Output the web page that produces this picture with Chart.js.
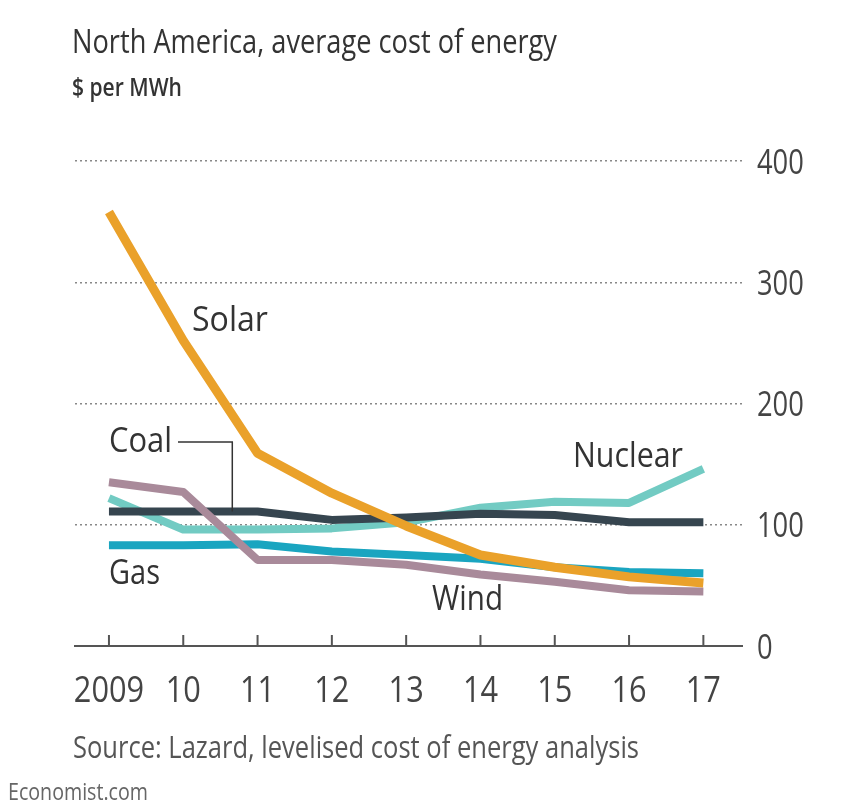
<!DOCTYPE html>
<html>
<head>
<meta charset="utf-8">
<script src="https://cdn.jsdelivr.net/npm/chart.js@4/dist/chart.umd.min.js"></script>
<style>
  html, body { margin: 0; padding: 0; background: #fff; }
  #wrap { position: relative; width: 861px; height: 807px; overflow: hidden; }
  canvas { position: absolute; left: 0; top: 0; }
  .t { position: absolute; white-space: nowrap; transform-origin: 0 0; font-family: "Open Sans", sans-serif; color: #333; line-height: 1; }
</style>
</head>
<body>
<div id="wrap">
  <canvas id="chart" width="861" height="807"></canvas>
  <div class="t" data-w="485" style="left:72px; top:24px; font-size:33px;">North America, average cost of energy</div>
  <div class="t" data-w="110" style="left:72px; top:73px; font-size:26px; font-weight:600;">$ per MWh</div>
  <div class="t" data-w="76" style="left:192px; top:300px; font-size:35px;">Solar</div>
  <div class="t" data-w="63" style="left:109px; top:421px; font-size:35px;">Coal</div>
  <div class="t" data-w="51" style="left:109px; top:553px; font-size:35px;">Gas</div>
  <div class="t" data-w="71" style="left:432px; top:579px; font-size:35px;">Wind</div>
  <div class="t" data-w="110" style="left:573px; top:436px; font-size:35px;">Nuclear</div>
  <div class="t" data-w="566" style="left:73px; top:731px; font-size:31px; color:#555;">Source: Lazard, levelised cost of energy analysis</div>
  <div class="t" data-w="140" style="left:8px; top:779px; font-size:24px; color:#666;">Economist.com</div>
</div>
<script>
// years on the x axis
const years = [2009, 2010, 2011, 2012, 2013, 2014, 2015, 2016, 2017];
// $ per MWh
const solar   = [358, 252, 159, 126, 99, 75, 65, 57, 52];
const coal    = [111, 111, 111, 104, 106, 109, 108, 102, 102];
const nuclear = [122, 96, 96, 97, 102, 114, 119, 118, 146];
const gas     = [83, 83, 84, 78, 75, 72, 65, 61, 60];
const wind    = [135, 127, 71, 71, 67, 59, 53, 46, 45];
const yTicks  = [0, 100, 200, 300, 400];

function series(label, values, color, width) {
  return {
    label: label,
    data: years.map((y, i) => ({ x: y, y: values[i] })),
    borderColor: color,
    borderWidth: width,
    pointRadius: 0,
    tension: 0,
    borderCapStyle: 'butt',
    borderJoinStyle: 'round'
  };
}

function yearLabel(v) {
  return v === 2009 ? '2009' : String(v).slice(2);
}

// condensed tick labels + upward tick marks, placed from the chart's own scales
const axisLabels = {
  id: 'axisLabels',
  afterDraw(chart) {
    const ctx = chart.ctx;
    const x = chart.scales.x, y = chart.scales.y;
    const bottom = chart.chartArea.bottom;
    ctx.save();
    ctx.fillStyle = '#444';
    ctx.strokeStyle = '#555';
    ctx.lineWidth = 2;
    x.ticks.forEach(t => {
      const px = x.getPixelForValue(t.value);
      ctx.beginPath();
      ctx.moveTo(px, bottom);
      ctx.lineTo(px, bottom - 11);
      ctx.stroke();
      ctx.save();
      ctx.translate(px, bottom + 56);
      ctx.scale(0.83, 1);
      ctx.font = '37px "Open Sans"';
      ctx.textAlign = 'center';
      ctx.fillText(yearLabel(t.value), 0, 0);
      ctx.restore();
    });
    yTicks.forEach(v => {
      const py = y.getPixelForValue(v);
      ctx.save();
      ctx.translate(chart.chartArea.right + 15, py + 12.5);
      ctx.scale(0.78, 1);
      ctx.font = '35px "Open Sans"';
      ctx.textAlign = 'left';
      ctx.fillText(String(v), 0, 0);
      ctx.restore();
    });
    ctx.restore();
  }
};

// thin leader from the "Coal" label down to the coal line
const coalLeader = {
  id: 'coalLeader',
  afterDatasetsDraw(chart) {
    const x = chart.scales.x, y = chart.scales.y;
    const px = x.getPixelForValue(2010.66);
    const ctx = chart.ctx;
    ctx.save();
    ctx.strokeStyle = '#333';
    ctx.lineWidth = 1.5;
    ctx.beginPath();
    ctx.moveTo(178, 442);
    ctx.lineTo(px, 442);
    ctx.lineTo(px, y.getPixelForValue(coal[1]));
    ctx.stroke();
    ctx.restore();
  }
};

new Chart(document.getElementById('chart'), {
  type: 'line',
  data: {
    datasets: [
      series('Solar', solar, '#eaa12a', 9),
      series('Wind', wind, '#a98a9a', 8),
      series('Coal', coal, '#36454f', 8),
      series('Nuclear', nuclear, '#72cbc3', 8),
      series('Gas', gas, '#1aa5c0', 8)
    ]
  },
  plugins: [coalLeader, axisLabels],
  options: {
    responsive: false,
    animation: false,
    devicePixelRatio: 1,
    layout: { padding: { left: 75, right: 119, top: 161, bottom: 161 } },
    plugins: { legend: { display: false }, tooltip: { enabled: false } },
    scales: {
      x: {
        type: 'linear',
        min: 2008.543,
        max: 2017.52,
        ticks: { display: false, stepSize: 1, includeBounds: false },
        grid: { display: false, drawTicks: false },
        border: { display: true, color: '#555', width: 2 }
      },
      y: {
        position: 'right',
        min: 0,
        max: 400,
        afterBuildTicks: s => { s.ticks = yTicks.map(v => ({ value: v })); },
        ticks: { display: false },
        grid: {
          drawTicks: false,
          lineWidth: 1.5,
          color: c => c.tick && c.tick.value === 0 ? 'rgba(0,0,0,0)' : '#888'
        },
        border: { display: false, dash: [2, 3] }
      }
    }
  }
});

// squeeze each text block to the width it has in the original
function fitText() {
  document.querySelectorAll('.t[data-w]').forEach(el => {
    el.style.transform = 'none';
    const w = el.getBoundingClientRect().width;
    el.style.transform = 'scaleX(' + (parseFloat(el.dataset.w) / w) + ')';
  });
}
fitText();
</script>
</body>
</html>
